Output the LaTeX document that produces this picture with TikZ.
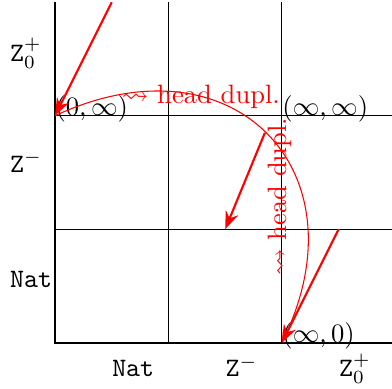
\documentclass[tikz,border=0pt]{standalone}
\usepackage{amsmath,amssymb}
\usepackage{tikz}
\usetikzlibrary{arrows.meta}

\begin{document}
\begin{tikzpicture}[
  x=1.5cm, y=1.5cm,
  axis/.style={thick},
  gridline/.style={thin},
  lbl/.style={anchor=base west, inner sep=0pt},
  pt/.style={anchor=base west, inner sep=0pt},
  move/.style={-{Stealth}, thick, red},
  dupl/.style={-{Stealth}, red}
]
  \useasboundingbox (-0.485,-0.405) rectangle (2.97,3.02);

  \foreach \i in {1,2} {
    \draw[gridline] (\i,0) -- (\i,3);
    \draw[gridline] (0,\i) -- (3,\i);
  }
  \draw[axis] (0,3) -- (0,0) -- (3,0);

  \node[lbl] (xnat) at (0.5,-0.3) {\texttt{Nat}};
  \node[lbl] (xneg) at (1.5,-0.3) {\texttt{Z}$^-$};
  \node[lbl] (xpos) at (2.5,-0.3) {\texttt{Z}$_0^+$};
  \node[lbl] (ynat) at (-0.4,0.49) {\texttt{Nat}};
  \node[lbl] (yneg) at (-0.4,1.5) {\texttt{Z}$^-$};
  \node[lbl] (ypos) at (-0.4,2.48) {\texttt{Z}$_0^+$};

  \coordinate (zinf) at (0,2);
  \coordinate (infinf) at (2,2);
  \coordinate (infz) at (2,0);
  \coordinate (src1) at (0.5,3);
  \coordinate (src2) at (2.5,1);
  \coordinate (tgt) at (1.5,1);

  \node[pt] (zinflbl) at (zinf) {$(0,\infty)$};
  \node[pt] (infinflbl) at (infinf) {$(\infty,\infty)$};
  \node[pt] (infzlbl) at (infz) {$(\infty,0)$};

  \draw[dupl] (zinf) to[out=25, in=65, looseness=1.54]
    coordinate[pos=0.5] (mid)
    node[pos=0.31] (hd1) {$\leadsto$ head dupl.}
    node[pos=0.69, rotate=90, above] (hd2) {$\leadsto$ head dupl.}
    (infz);

  \draw[move] (src1) -- (zinf);
  \draw[move] (mid) -- (tgt);
  \draw[move] (src2) -- (infz);
\end{tikzpicture}
\end{document}
